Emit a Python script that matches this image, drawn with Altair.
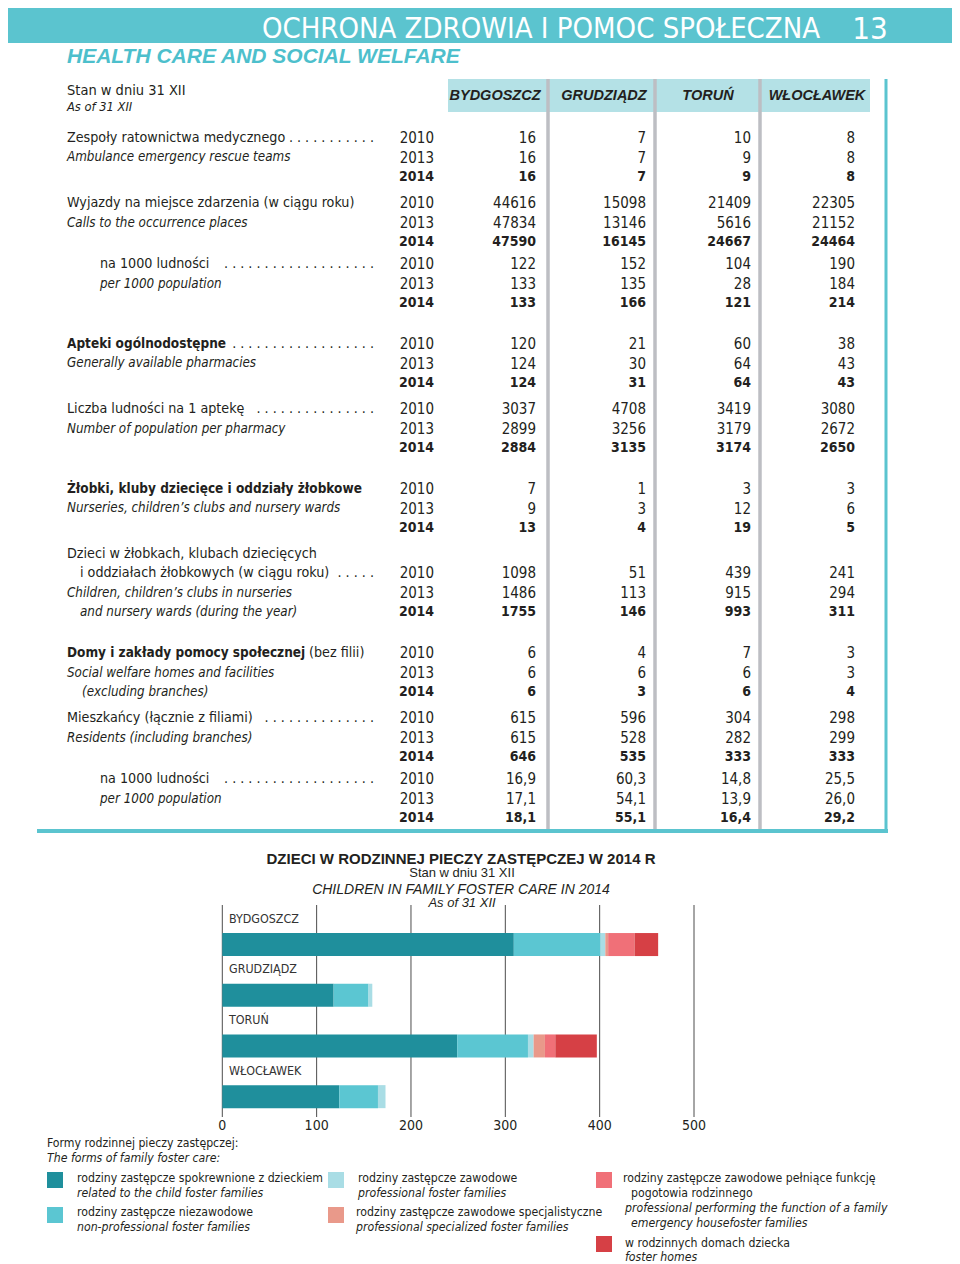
import altair as alt
import pandas as pd

# ---------------- data ----------------
cities = ["BYDGOSZCZ", "GRUDZIĄDZ", "TORUŃ", "WŁOCŁAWEK"]
years = ["2010", "2013", "2014"]

ambulance_teams = [[16, 7, 10, 8], [16, 7, 9, 8], [16, 7, 9, 8]]
calls = [[44616, 15098, 21409, 22305], [47834, 13146, 5616, 21152], [47590, 16145, 24667, 24464]]
calls_per_1000 = [[122, 152, 104, 190], [133, 135, 28, 184], [133, 166, 121, 214]]
pharmacies = [[120, 21, 60, 38], [124, 30, 64, 43], [124, 31, 64, 43]]
pop_per_pharmacy = [[3037, 4708, 3419, 3080], [2899, 3256, 3179, 2672], [2884, 3135, 3174, 2650]]
nurseries = [[7, 1, 3, 3], [9, 3, 12, 6], [13, 4, 19, 5]]
children_in_nurseries = [[1098, 51, 439, 241], [1486, 113, 915, 294], [1755, 146, 993, 311]]
welfare_homes = [[6, 4, 7, 3], [6, 6, 6, 3], [6, 3, 6, 4]]
residents = [[615, 596, 304, 298], [615, 528, 282, 299], [646, 535, 333, 333]]
residents_per_1000 = [[16.9, 60.3, 14.8, 25.5], [17.1, 54.1, 13.9, 26.0], [18.1, 55.1, 16.4, 29.2]]

indicators = [ambulance_teams, calls, calls_per_1000, pharmacies, pop_per_pharmacy,
              nurseries, children_in_nurseries, welfare_homes, residents, residents_per_1000]

# foster care chart (2014)
foster_forms = ["spokrewnione", "niezawodowe", "zawodowe", "specjalistyczne", "pogotowie", "domy"]
foster_related = [309, 118, 249, 124]
foster_nonprof = [92, 37, 75, 41]
foster_prof = [5, 4, 6, 8]
foster_special = [3, 0, 12, 0]
foster_emergency = [28, 0, 11, 0]
foster_homes = [25, 0, 44, 0]
axis_ticks = [0, 100, 200, 300, 400, 500]

# ---------------- style / layout ----------------
W, H = 944, 1256
M = 8
NARROW = "DejaVu Sans Condensed, Liberation Sans Narrow, sans-serif"
SANS = "Liberation Sans, Arial, sans-serif"
INK = "#231f20"
TEAL = "#5bc4cf"
HEAD_BAND = "#b4e1e6"
SEP = "#bdbec3"
form_colors = ["#1f8f9c", "#5bc6d2", "#a9dde5", "#e9998a", "#f07078", "#d64045"]

LBL = 14.2      # regular row labels
LBL_I = 13.3    # italic row labels
LBL_B = 13.5    # bold row labels
NUM = 15        # numbers
NUM_B = 14      # bold numbers
LEG = 12.2      # legend text

base = pd.DataFrame({"k": [0]})
layers = []


def txt(s, x, y, size=LBL, font=NARROW, weight="normal", style="normal",
        color=INK, align="left", baseline="middle"):
    return alt.Chart(base).mark_text(
        text=s, font=font, fontSize=size, fontWeight=weight, fontStyle=style,
        color=color, align=align, baseline=baseline
    ).encode(x=alt.value(x - M), y=alt.value(y - M))


def rect(x1, y1, x2, y2, color):
    return alt.Chart(base).mark_rect(color=color).encode(
        x=alt.value(x1 - M), x2=alt.value(x2 - M),
        y=alt.value(y1 - M), y2=alt.value(y2 - M))


def rule(x1, y1, x2, y2, color, width):
    return alt.Chart(base).mark_rule(color=color, strokeWidth=width).encode(
        x=alt.value(x1 - M), x2=alt.value(x2 - M),
        y=alt.value(y1 - M), y2=alt.value(y2 - M))


# banner
layers.append(rect(8, 5, 952, 43, TEAL))
layers.append(txt("OCHRONA ZDROWIA I POMOC SPOŁECZNA", 541, 38, size=29, color="white",
                  align="center", baseline="alphabetic"))
layers.append(txt("13", 870, 39, size=31, color="white", align="center", baseline="alphabetic"))
layers.append(txt("HEALTH CARE AND SOCIAL WELFARE", 67, 57, size=21, font=SANS,
                  weight="bold", style="italic", color="#4dbfcc"))
layers.append(txt("Stan w dniu 31 XII", 67, 91, size=14.5))
layers.append(txt("As of 31 XII", 67, 107, size=12.8, style="italic"))

# header band + separators
layers.append(rect(448, 79, 870, 112, HEAD_BAND))
for sx in [548, 655, 760]:
    layers.append(rule(sx, 79, sx, 829, SEP, 3.5))
layers.append(rule(886, 79, 886, 833, TEAL, 3))
layers.append(rule(37, 831, 888, 831, TEAL, 4))
for cx, name in zip([495, 604, 708, 817], cities):
    layers.append(txt(name, cx, 96, size=14.5, font=SANS, weight="bold", style="italic", align="center"))

# row labels
labels = [
    ("Zespoły ratownictwa medycznego", 67, 138, "n"),
    ("Ambulance emergency rescue teams", 67, 157, "i"),
    ("Wyjazdy na miejsce zdarzenia (w ciągu roku)", 67, 203, "n"),
    ("Calls to the occurrence places", 67, 223, "i"),
    ("na 1000 ludności", 100, 264, "n"),
    ("per 1000 population", 100, 284, "i"),
    ("Apteki ogólnodostępne", 67, 344, "b"),
    ("Generally available pharmacies", 67, 363, "i"),
    ("Liczba ludności na 1 aptekę", 67, 409, "n"),
    ("Number of population per pharmacy", 67, 429, "i"),
    ("Żłobki, kluby dziecięce i oddziały żłobkowe", 67, 489, "b"),
    ("Nurseries, children’s clubs and nursery wards", 67, 508, "i"),
    ("Dzieci w żłobkach, klubach dziecięcych", 67, 554, "n"),
    ("i oddziałach żłobkowych (w ciągu roku)", 80, 573, "n"),
    ("Children, children’s clubs in nurseries", 67, 593, "i"),
    ("and nursery wards (during the year)", 80, 612, "i"),
    ("Domy i zakłady pomocy społecznej", 67, 653, "b"),
    ("(bez filii)", 309, 653, "n"),
    ("Social welfare homes and facilities", 67, 673, "i"),
    ("(excluding branches)", 82, 692, "i"),
    ("Mieszkańcy (łącznie z filiami)", 67, 718, "n"),
    ("Residents (including branches)", 67, 738, "i"),
    ("na 1000 ludności", 100, 779, "n"),
    ("per 1000 population", 100, 799, "i"),
]
for s, x, y, st in labels:
    size = LBL_B if st == "b" else (LBL_I if st == "i" else LBL)
    layers.append(txt(s, x, y, size=size, weight="bold" if st == "b" else "normal",
                      style="italic" if st == "i" else "normal"))
for n, y in [(11, 138), (19, 264), (18, 344), (15, 409), (5, 573), (14, 718), (19, 779)]:
    layers.append(txt(" ".join(["."] * n), 374, y, align="right"))

# table values
group_tops = [138, 203, 264, 344, 409, 489, 573, 653, 718, 779]
ROW = 19.6
col_right = [434, 536, 646, 751, 855]


def fmt(v):
    if isinstance(v, float):
        return f"{v:.1f}".replace(".", ",")
    return str(v)


recs = []
for g, table in enumerate(indicators):
    for yi, row in enumerate(table):
        yy = group_tops[g] + yi * ROW - M
        recs.append(dict(col=0, ypos=yy, label=years[yi], bold=(yi == 2)))
        for ci, v in enumerate(row):
            recs.append(dict(col=ci + 1, ypos=yy, label=fmt(v), bold=(yi == 2)))
tdf = pd.DataFrame(recs)

xcol = alt.X("col:Q", scale=alt.Scale(domain=[0, 1, 2, 3, 4], range=[c - M for c in col_right],
                                      nice=False, zero=False), axis=None)
yrow = alt.Y("ypos:Q", scale=alt.Scale(domain=[0, H], range=[0, H], nice=False, zero=False), axis=None)
for b in [False, True]:
    layers.append(
        alt.Chart(tdf[tdf["bold"] == b]).mark_text(
            align="right", baseline="middle", font=NARROW, fontSize=NUM_B if b else NUM,
            fontWeight="bold" if b else "normal", color=INK
        ).encode(x=xcol, y=yrow, text="label:N")
    )

# ---------------- foster-care chart ----------------
layers.append(txt("DZIECI W RODZINNEJ PIECZY ZASTĘPCZEJ W 2014 R", 461, 859, size=15, font=SANS,
                  weight="bold", align="center"))
layers.append(txt("Stan w dniu 31 XII", 462, 873, size=13, font=SANS, align="center"))
layers.append(txt("CHILDREN IN FAMILY FOSTER CARE IN 2014", 461, 890, size=14, font=SANS,
                  style="italic", align="center"))
layers.append(txt("As of 31 XII", 462, 903, size=13, font=SANS, style="italic", align="center"))

series = [foster_related, foster_nonprof, foster_prof, foster_special, foster_emergency, foster_homes]
brecs = []
for fi, (form, vals) in enumerate(zip(foster_forms, series)):
    for city, v in zip(cities, vals):
        brecs.append(dict(city=city, form=form, idx=fi, value=v))
bdf = pd.DataFrame(brecs)

xs = alt.Scale(domain=[0, 500], range=[222.3 - M, 694 - M], nice=False, zero=False)
ys = alt.Scale(domain=cities, range=[919.2 - M, 1122 - M], paddingInner=0.546, paddingOuter=0.273)

tick_df = pd.DataFrame({"tick": axis_ticks})
layers.append(alt.Chart(tick_df).mark_rule(color="#4d4d4d", strokeWidth=1).encode(
    x=alt.X("tick:Q", scale=xs, axis=None), y=alt.value(905 - M), y2=alt.value(1117 - M)))
layers.append(alt.Chart(tick_df).mark_text(font=NARROW, fontSize=14, color=INK, baseline="middle").encode(
    x=alt.X("tick:Q", scale=xs, axis=None), y=alt.value(1126 - M), text="tick:Q"))

layers.append(alt.Chart(bdf[bdf["value"] > 0]).mark_bar().encode(
    x=alt.X("value:Q", stack="zero", scale=xs, axis=None),
    y=alt.Y("city:N", scale=ys, axis=None),
    color=alt.Color("form:N", scale=alt.Scale(domain=foster_forms, range=form_colors), legend=None),
    order=alt.Order("idx:Q"),
))
layers.append(alt.Chart(pd.DataFrame({"city": cities})).mark_text(
    font=NARROW, fontSize=12.4, color="#333333", align="left", baseline="middle", dy=-26
).encode(x=alt.value(229 - M), y=alt.Y("city:N", scale=ys, axis=None), text="city:N"))

# legend
layers.append(txt("Formy rodzinnej pieczy zastępczej:", 47, 1143, size=LEG))
layers.append(txt("The forms of family foster care:", 47, 1158, size=LEG, style="italic"))
sw = [(47, 1172, 0), (47, 1207, 1), (328, 1172, 2), (328, 1207, 3), (596, 1172, 4), (596, 1236, 5)]
for x, y, ci in sw:
    layers.append(rect(x, y, x + 16, y + 16, form_colors[ci]))
leg = [
    ("rodziny zastępcze spokrewnione z dzieckiem", 77, 1178, "n"),
    ("related to the child foster families", 77, 1193, "i"),
    ("rodziny zastępcze niezawodowe", 77, 1212, "n"),
    ("non-professional foster families", 77, 1227, "i"),
    ("rodziny zastępcze zawodowe", 358, 1178, "n"),
    ("professional foster families", 358, 1193, "i"),
    ("rodziny zastępcze zawodowe specjalistyczne", 356, 1212, "n"),
    ("professional specialized foster families", 356, 1227, "i"),
    ("rodziny zastępcze zawodowe pełniące funkcję", 623, 1178, "n"),
    ("pogotowia rodzinnego", 631, 1193, "n"),
    ("professional performing the function of a family", 625, 1208, "i"),
    ("emergency housefoster families", 631, 1223, "i"),
    ("w rodzinnych domach dziecka", 625, 1243, "n"),
    ("foster homes", 625, 1257, "i"),
]
for s, x, y, st in leg:
    layers.append(txt(s, x, y, size=LEG, style="italic" if st == "i" else "normal"))

chart = alt.layer(*layers).resolve_scale(x="independent", y="independent", color="independent").properties(
    width=W, height=H, padding=0, autosize=alt.AutoSizeParams(type="none")
).configure_view(stroke=None)

chart.save("out.html", embed_options={"renderer": "svg", "actions": False})
